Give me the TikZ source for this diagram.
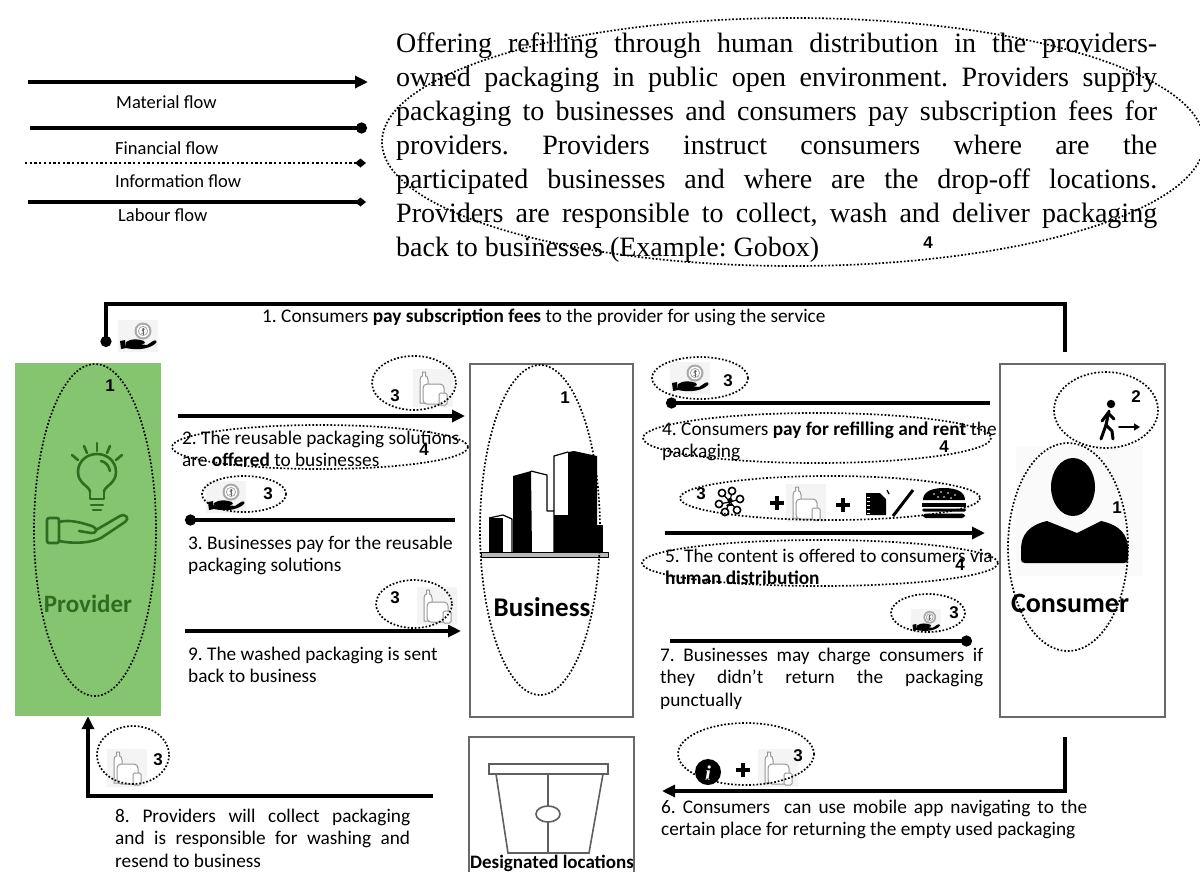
\documentclass[tikz,border=0pt]{standalone}
\usepackage{fontspec}
\setmainfont{Carlito}
\newfontfamily\timesfont{Liberation Serif}
\newfontfamily\arialfont{Liberation Sans}
\usetikzlibrary{arrows.meta}
\frenchspacing

\definecolor{provgreen}{RGB}{134,197,111}
\definecolor{darkgreen}{RGB}{46,108,32}
\definecolor{boxgray}{RGB}{105,105,105}
\definecolor{iconbg}{RGB}{244,244,244}
\definecolor{icongray}{RGB}{150,150,150}
\definecolor{coingray}{RGB}{170,170,170}
\definecolor{bingray}{RGB}{95,95,95}

\newcommand\lblfont{\fontsize{19.3}{22.5}\selectfont}
\newcommand\legendfont{\fontsize{18.5}{22}\selectfont}

\tikzset{
  flow/.style={line width=3.2pt},
  material/.style={flow, -{Triangle[length=13pt,width=12pt]}},
  financial/.style={flow, -{Circle[length=11pt]}},
  labour/.style={flow, -{Kite[length=11pt,width=9pt,inset=5.5pt]}},
  information/.style={line width=2.3pt, dash pattern=on 2.3pt off 2.4pt,
    -{Kite[length=11pt,width=9pt,inset=5.5pt]}},
  dots/.style={line width=1.7pt, dash pattern=on 1.7pt off 1.9pt},
  box/.style={draw=boxgray, line width=1.1pt, fill=white, inner sep=0},
  num/.style={font=\arialfont\bfseries\fontsize{17}{17}\selectfont, inner sep=0},
  lbl/.style={anchor=base west, inner sep=0, font=\lblfont},
  legendtxt/.style={anchor=base west, inner sep=0, font=\legendfont},
  actor/.style={inner sep=0, font=\bfseries\fontsize{#1}{#1}\selectfont},
  % hand holding a coin
  moneyicon/.pic={
    \fill[iconbg] (-20,-16) rectangle (20,16);
    \fill[coingray] (5,-5) circle (8.5);
    \fill[white] (5,-5) circle (6.3);
    \draw[coingray, line width=0.9pt] (5,-5) circle (4.6);
    \draw[coingray!60!black, line width=0.6pt] (5,-8.5) -- (5,-1.5);
    \draw[coingray!60!black, line width=0.7pt] (6.8,-6.8) .. controls (5.5,-8) and (3,-7) .. (4,-5.3)
      .. controls (6.8,-4.5) and (6.5,-2) .. (3.3,-2.7);
    \fill[black] (-18,5) -- (-13,4) -- (-12,12) -- (-17,13) -- cycle;
    \fill[black] (-12,6) .. controls (-6,2) and (0,3) .. (6,5)
      .. controls (8,6) and (7,8) .. (4,8) -- (0,8) -- (9,9) -- (15,5)
      .. controls (18,3) and (20,6) .. (17,8)
      .. controls (9,14) and (-3,14) .. (-12,12) -- cycle;
  },
  % bottle, jar and cup
  bottleicon/.pic={
    \fill[iconbg] (-20,-19) rectangle (20,19);
    \begin{scope}[draw=icongray, line width=1pt, fill=white]
      \filldraw (-13,15) -- (-13,-8) .. controls (-13,-11) and (-11.5,-12) .. (-10.5,-12)
        -- (-10.5,-16) -- (-7.5,-16) -- (-7.5,-12) .. controls (-6.5,-12) and (-5,-11) .. (-5,-8)
        -- (-5,15) -- cycle;
      \filldraw[rounded corners=4pt] (-10,16) -- (-10,-4) -- (11,-4) -- (11,16) -- cycle;
      \filldraw[rounded corners=1.5pt] (6,17) -- (6,5) -- (14,5) -- (14,17) -- cycle;
    \end{scope}
  },
  % people network
  networkicon/.pic={
    \foreach \p in {(-8,-9),(2,-11),(10,-3),(-11,2),(-5,10),(7,8)}
      \draw[line width=1.2pt] (0,0) -- \p;
    \foreach \p in {(-8,-9),(2,-11),(10,-3),(-11,2),(-5,10),(7,8)}
      \filldraw[fill=white, line width=1.6pt] \p circle (3.6);
    \fill (0,-1.5) circle (2.6);
    \fill (-3.6,4) .. controls (-3.6,0.5) and (3.6,0.5) .. (3.6,4) -- cycle;
  },
  % notebook
  docicon/.pic={
    \fill (-10,-11) -- (4,-11) -- (10,-5) -- (10,11) -- (-10,11) -- cycle;
    \foreach \yy in {-7,-3,1,5,9}
      \draw[white, line width=0.9pt] (-9,\yy) -- (-6.5,\yy);
    \draw[line width=1.2pt] (11,-14) -- (13,-10);
  },
  % hamburger
  burgericon/.pic={
    \fill (-21,-3) .. controls (-21,-12) and (-11,-15) .. (0,-15)
      .. controls (11,-15) and (21,-12) .. (21,-3) -- cycle;
    \foreach \p in {(-10,-9),(-3,-11),(4,-10),(11,-8),(-6,-6),(7,-5),(0,-6)}
      \fill[white] \p circle (0.9);
    \fill (-22,0) rectangle (22,3.5);
    \fill[rounded corners=1.5pt] (-22,5.5) rectangle (22,8.5);
    \fill[rounded corners=3pt] (-21,10.5) rectangle (21,15);
  },
  plussign/.pic={
    \draw[line width=3.6pt] (-7,0) -- (7,0) (0,-7) -- (0,7);
  },
}

\begin{document}
\begin{tikzpicture}[x=1pt,y=-1pt]
\useasboundingbox (0,0) rectangle (1200,871);
\clip (0,0) rectangle (1200,871);

% ---------------- legend ----------------
\coordinate (m0) at (28,82);   \coordinate (m1) at (368,82);
\coordinate (f0) at (30,128);  \coordinate (f1) at (367,128);
\coordinate (i0) at (25,163);  \coordinate (i1) at (366,163);
\coordinate (l0) at (28,202);  \coordinate (l1) at (366,202);
\draw[material] (m0) -- (m1);
\draw[financial] (f0) -- (f1);
\draw[information] (i0) -- (i1);
\draw[labour] (l0) -- (l1);
\node[legendtxt] (lgm) at (116,108) {Material flow};
\node[legendtxt] (lgf) at (115,154) {Financial flow};
\node[legendtxt] (lgi) at (115,187) {Information flow};
\node[legendtxt] (lgl) at (118,221) {Labour flow};

% ---------------- description ----------------
\node[anchor=base west, inner sep=0, text width=761pt, align=justify,
      font=\timesfont\fontsize{28}{34}\selectfont] (desc) at (396,52)
  {Offering refilling through human distribution in the providers-\linebreak
   owned packaging in public open environment. Providers supply\linebreak
   packaging to businesses and consumers pay subscription fees for\linebreak
   providers. Providers instruct consumers where are the\linebreak
   participated businesses and where are the drop-off locations.\linebreak
   Providers are responsible to collect, wash and deliver packaging\linebreak
   back to businesses (Example: Gobox)};
\draw[dots] (793,142) ellipse (411 and 124);
\node[num] (n4d) at (928,243) {4};

% ---------------- actors ----------------
\node[inner sep=0, fill=provgreen, minimum width=146pt, minimum height=353pt] (provider) at (88,539.5) {};
\node[box, minimum width=163pt, minimum height=353pt] (business) at (551.5,540.5) {};
\node[box, minimum width=165pt, minimum height=353pt] (consumer) at (1082.5,540.5) {};
\node[box, minimum width=165pt, minimum height=150pt] (designated) at (551.5,812) {};

% provider: light bulb over a hand
\begin{scope}[darkgreen, line width=2.6pt, line cap=round, line join=round]
  \draw (90,492) .. controls (90,486) and (78,484) .. (78,472)
        .. controls (78,461) and (87,454) .. (97,454)
        .. controls (107,454) and (116,461) .. (116,472)
        .. controls (116,484) and (104,486) .. (104,492);
  \draw (90,492) -- (90,499) -- (104,499) -- (104,492);
  \draw (91,505) -- (103,505);
  \draw (93,510) -- (101,510);
  \draw (101,461) .. controls (106,462) and (109,466) .. (110,471);
  \draw (72,455) -- (78,460);
  \draw (84,446) -- (87,453);
  \draw (97,443) -- (97,451);
  \draw (110,446) -- (107,453);
  \draw (122,455) -- (116,460);
  \draw[rounded corners=2pt] (47,518) rectangle (59,543);
  \draw (59,522) .. controls (70,519) and (82,523) .. (92,526)
        .. controls (98,528) and (97,534) .. (91,533) -- (79,531);
  \draw (96,530) -- (120,516) .. controls (126,513) and (130,519) .. (125,522)
        -- (101,538) .. controls (91,543) and (74,544) .. (59,541);
\end{scope}
\node[actor=25, text=darkgreen] (provlbl) at (88,604) {Provider};
\draw[dots] (95,530) ellipse (61 and 166);
\node[num] (n1p) at (110,386) {1};

% business: skyline
\begin{scope}[line width=1.2pt, line join=round]
  \fill (489,518) rectangle (503,552);
  \draw (489,518) -- (503,515) -- (512,519) -- (512,552);
  \fill (513,476) -- (531,471) -- (532,552) -- (513,552) -- cycle;
  \draw (531,471) -- (547,475) -- (547,511) -- (554,511);
  \draw (554,552) -- (554,456) -- (568,452);
  \fill (554,515) rectangle (568,552);
  \fill (568,452) -- (574,451) -- (597,456) -- (597,552) -- (568,552) -- cycle;
  \fill (593,525) rectangle (603,552);
  \filldraw[fill=gray!55, line width=0.7pt] (481,552) rectangle (608,557);
\end{scope}
\node[actor=27] (buslbl) at (542,607) {Business};
\draw[dots] (540,530) ellipse (60 and 165);
\node[num] (n1b) at (565,398) {1};

% consumer: person and walking figure
\fill[gray!4] (1016,446) rectangle (1143,576);
\fill (1073,487) ellipse (22 and 29);
\fill (1047,521) -- (1077,533) -- (1101,521)
      .. controls (1120,525) and (1128,535) .. (1128,549)
      -- (1128,559) .. controls (1128,562) and (1127,563) .. (1124,563)
      -- (1025,563) .. controls (1022,563) and (1021,562) .. (1021,559)
      -- (1021,549) .. controls (1021,535) and (1029,525) .. (1047,521) -- cycle;
\node[actor=28] (conlbl) at (1070,603) {Consumer};
\draw[dots] (1068,547) ellipse (60 and 104);
\node[num] (n1c) at (1117,508) {1};
\begin{scope}[line width=3pt, line cap=round, line join=round]
  \fill (1111,404) circle (4.2);
  \draw (1109,411) -- (1106,425);
  \draw (1106,425) -- (1101,439);
  \draw (1106,425) -- (1112,431) -- (1113,439);
  \draw (1108,413) -- (1102,421);
  \draw (1108,413) -- (1114,419);
  \draw[line width=2pt, -{Triangle[length=6pt,width=7pt]}] (1119,427) -- (1140,427);
\end{scope}
\draw[dots] (1106,410) ellipse (52 and 38);
\node[num] (n2c) at (1136,397) {2};

% designated locations: bin
\begin{scope}[bingray, line width=1.6pt]
  \draw (489,764) rectangle (608,774);
  \draw (496,774) -- (508,853) -- (589,853) -- (603,774);
  \draw (548,774) -- (548,806) (548,822) -- (548,853);
  \draw (548,814) ellipse (12 and 8);
\end{scope}
\node[actor=19, anchor=base] (deslbl) at (552,868) {Designated locations};

% ---------------- 1: subscription fees ----------------
\coordinate (t0) at (1065,352);
\coordinate (t1) at (1065,304);
\coordinate (t2) at (106,304);
\coordinate (t3) at (106,347);
\draw[financial] (t0) -- (t1) -- (t2) -- (t3);
\pic at (138,336) {moneyicon};
\node[lbl] (lab1) at (262,322)
  {1. Consumers \textbf{pay subscription fees} to the provider for using the service};

% ---------------- 2: packaging to business ----------------
\coordinate (a2s) at (178,416);
\coordinate (a2e) at (465,416);
\draw[material] (a2s) -- (a2e);
\pic at (433,388) {bottleicon};
\draw[dots] (414,383) ellipse (42 and 27);
\node[num] (n3a2) at (395,396) {3};
\node[lbl, text width=300pt, align=flush left] (lab2) at (182,444)
  {2. The reusable packaging solutions\\ are \textbf{offered} to businesses};
\draw[dots] (320,447) ellipse (148 and 22);
\node[num] (n4a2) at (424,450) {4};

% ---------------- 3: business pays ----------------
\coordinate (a3s) at (455,520);
\coordinate (a3e) at (185,520);
\draw[financial] (a3s) -- (a3e);
\pic at (226,497) {moneyicon};
\draw[dots] (244,494) ellipse (42 and 18);
\node[num] (n3a3) at (268,494) {3};
\node[lbl, text width=290pt, align=flush left] (lab3) at (188,549)
  {3. Businesses pay for the reusable\\ packaging solutions};

% ---------------- 9: washed packaging ----------------
\coordinate (a9s) at (185,631);
\coordinate (a9e) at (461,631);
\draw[material] (a9s) -- (a9e);
\pic at (437,606) {bottleicon};
\draw[dots] (414,604) ellipse (38 and 24);
\node[num] (n3a9) at (395,598) {3};
\node[lbl, text width=290pt, align=flush left] (lab9) at (188,660)
  {9. The washed packaging is sent\\ back to business};

% ---------------- 4: consumer pays ----------------
\coordinate (a4s) at (990,403);
\coordinate (a4e) at (666,403);
\draw[financial] (a4s) -- (a4e);
\pic at (690,378) {moneyicon};
\draw[dots] (700,378) ellipse (48 and 21);
\node[num] (n3a4) at (728,381) {3};
\node[lbl, text width=380pt, align=flush left] (lab4) at (662,435)
  {4. Consumers \textbf{pay for refilling and rent} the\\ packaging};
\draw[dots] (817,438) ellipse (174 and 25);
\node[num] (n4a4) at (944,447) {4};

% ---------------- 5: content to consumer ----------------
\pic at (730,502) {networkicon};
\pic at (777,503) {plussign};
\pic at (806,503) {bottleicon};
\pic at (843,505) {plussign};
\pic at (876,504) {docicon};
\draw[line width=3pt] (893,516) -- (913,490);
\pic at (944,503) {burgericon};
\draw[dots] (830,498) ellipse (150 and 22);
\node[num] (n3a5) at (701,494) {3};
\coordinate (a5s) at (665,533);
\coordinate (a5e) at (985,533);
\draw[material] (a5s) -- (a5e);
\node[lbl, text width=380pt, align=flush left] (lab5) at (665,562)
  {5. The content is offered to consumers via\\ \textbf{human distribution}};
\draw[dots] (820,563) ellipse (178 and 23);
\node[num] (n4a5) at (960,565) {4};

% ---------------- 7: business charges consumer ----------------
\coordinate (a7s) at (670,641);
\coordinate (a7e) at (972,641);
\draw[financial] (a7s) -- (a7e);
\pic[scale=0.75] at (926,621) {moneyicon};
\draw[dots] (928,613) ellipse (37 and 19);
\node[num] (n3a7) at (954,613) {3};
\node[lbl, text width=323pt, align=justify] (lab7) at (660,661)
  {7. Businesses may charge consumers if\linebreak
   they didn’t return the packaging\linebreak punctually};

% ---------------- 6: consumer returns packaging ----------------
\coordinate (a6s) at (1065,737);
\coordinate (a6m) at (1065,791);
\coordinate (a6e) at (662,791);
\draw[material] (a6s) -- (a6m) -- (a6e);
\fill (708,772) circle (13);
\node[inner sep=0, text=white, font=\timesfont\bfseries\itshape\fontsize{21}{21}\selectfont] (infoi) at (708,773) {i};
\pic at (743,770) {plussign};
\pic at (778,768) {bottleicon};
\draw[dots] (746,754) ellipse (68 and 31);
\node[num] (n3a6) at (798,756) {3};
\node[lbl, text width=426pt, align=justify] (lab6) at (661,813)
  {6. Consumers\ \ can use mobile app navigating to the\linebreak
   certain place for returning the empty used packaging};

% ---------------- 8: provider collects ----------------
\coordinate (a8s) at (433,796);
\coordinate (a8m) at (88,796);
\draw[material] (a8s) -- (a8m) -- (provider.south);
\pic at (127,768) {bottleicon};
\draw[dots] (133,755) ellipse (36 and 29);
\node[num] (n3a8) at (158,760) {3};
\node[lbl, text width=295pt, align=justify] (lab8) at (115,822)
  {8. Providers will collect packaging\linebreak
   and is responsible for washing and\linebreak resend to business};

\end{tikzpicture}
\end{document}
